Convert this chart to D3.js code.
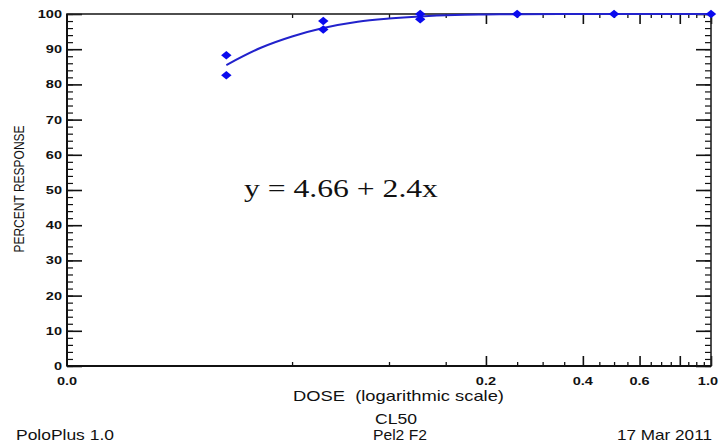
<!DOCTYPE html>
<html><head><meta charset="utf-8">
<script src="https://cdn.jsdelivr.net/npm/d3@7"></script>
<style>body{margin:0;background:#fff}svg{display:block}</style>
</head><body>
<svg id="c" width="719" height="446"></svg>
<script>
// ---- data ----
const doses = [0.03125, 0.03125, 0.0625, 0.0625, 0.125, 0.125, 0.25, 0.5, 1.0];
const responses = [88.3, 82.6, 98.0, 95.6, 100, 98.5, 100, 100, 100];
const curveDoses = [0.03125, 0.04, 0.05, 0.0625, 0.08, 0.1, 0.125, 0.16, 0.2, 0.25, 0.5, 1.0];
const curveResp = [85.5, 90.4, 93.6, 96.0, 97.8, 98.7, 99.3, 99.7, 99.85, 99.95, 100, 100];
const yMajorTicks = [0,10,20,30,40,50,60,70,80,90,100];
const yMinorTicks = d3.range(0, 101, 2);
const xLabelTicks = [0.01, 0.2, 0.4, 0.6, 1.0];
const xLabelText = ["0.0", "0.2", "0.4", "0.6", "1.0"];
const xMajorTicks = [0.2, 0.4, 0.6, 0.8, 1.0];
const xMinorTicks = [0.05,0.1,0.15,0.25,0.3,0.35,0.45,0.5,0.55,0.65,0.7,0.75,0.85,0.9,0.95];
const equation = "y = 4.66 + 2.4x";

const svg = d3.select("#c");
const L = 67, R = 711, T = 14, B = 366;
const x = d3.scaleLog().domain([0.01, 1]).range([L, R]);
const y = d3.scaleLinear().domain([0, 100]).range([B, T]);

function txt(s, px, py, opt) {
  const t = svg.append("text").text(s)
    .attr("x", 0).attr("y", 0)
    .attr("text-anchor", opt.anchor || "start")
    .attr("font-family", opt.family || "Liberation Sans, Arial, sans-serif")
    .attr("font-size", opt.size)
    .attr("font-weight", opt.weight || "normal")
    .attr("fill", "#111");
  if (opt.dy) t.attr("dy", opt.dy);
  let sx = opt.sx || 1;
  if (opt.width) sx = opt.width / t.node().getComputedTextLength();
  t.attr("transform", `translate(${px},${py}) scale(${sx},1)` + (opt.rot ? ` rotate(${opt.rot})` : ""));
  return t;
}

// ---- axes (ticks inward) ----
function axisStyle(g, w) {
  g.selectAll(".domain").remove();
  g.selectAll(".tick line").attr("stroke", "#111").attr("stroke-width", w);
  g.selectAll(".tick text").remove();
}
svg.append("g").attr("transform", `translate(${L},0)`)
  .call(d3.axisRight(y).tickValues(yMajorTicks).tickSize(15).tickFormat(""))
  .call(g => axisStyle(g, 1.6));
svg.append("g").attr("transform", `translate(${L},0)`)
  .call(d3.axisRight(y).tickValues(yMinorTicks).tickSize(6).tickFormat(""))
  .call(g => axisStyle(g, 1.2));
svg.append("g").attr("transform", `translate(${R},0)`)
  .call(d3.axisLeft(y).tickValues(yMajorTicks).tickSize(15).tickFormat(""))
  .call(g => axisStyle(g, 1.6));
svg.append("g").attr("transform", `translate(${R},0)`)
  .call(d3.axisLeft(y).tickValues(yMinorTicks).tickSize(6).tickFormat(""))
  .call(g => axisStyle(g, 1.2));
svg.append("g").attr("transform", `translate(0,${B})`)
  .call(d3.axisTop(x).tickValues(xMajorTicks).tickSize(10).tickFormat(""))
  .call(g => axisStyle(g, 1.6));
svg.append("g").attr("transform", `translate(0,${B})`)
  .call(d3.axisTop(x).tickValues(xMinorTicks).tickSize(4).tickFormat(""))
  .call(g => axisStyle(g, 1.3));
svg.append("g").attr("transform", `translate(0,${T})`)
  .call(d3.axisBottom(x).tickValues(xMajorTicks).tickSize(10).tickFormat(""))
  .call(g => axisStyle(g, 1.6));
svg.append("g").attr("transform", `translate(0,${T})`)
  .call(d3.axisBottom(x).tickValues(xMinorTicks).tickSize(4).tickFormat(""))
  .call(g => axisStyle(g, 1.3));

// frame
svg.append("rect").attr("x", L).attr("y", T).attr("width", R - L).attr("height", B - T)
  .attr("fill", "none").attr("stroke", "#222").attr("stroke-width", 1.6);
svg.append("line").attr("x1", L).attr("x2", L).attr("y1", T).attr("y2", B).attr("stroke", "#111").attr("stroke-width", 2);
svg.append("line").attr("x1", L).attr("x2", R).attr("y1", B).attr("y2", B).attr("stroke", "#111").attr("stroke-width", 2);

// tick labels
yMajorTicks.forEach(v => txt(String(v), 62, y(v), {anchor: "end", size: 11, weight: "bold", sx: 1.32, dy: "0.36em"}));
xLabelTicks.forEach((v, i) => {
  const last = i === xLabelTicks.length - 1;
  txt(xLabelText[i], last ? 718 : x(v), 385, {anchor: last ? "end" : "middle", size: 11, weight: "bold", sx: 1.32});
});

// curve
svg.append("path")
  .datum(curveDoses.map((d, i) => [d, curveResp[i]]))
  .attr("d", d3.line().x(d => x(d[0])).y(d => y(d[1])).curve(d3.curveMonotoneX))
  .attr("fill", "none").attr("stroke", "#2222cc").attr("stroke-width", 2);

// points
const dia = "M0,-4.2L5.2,0L0,4.2L-5.2,0Z";
svg.selectAll(".pt").data(doses.map((d, i) => [d, responses[i]])).enter()
  .append("path").attr("class", "pt").attr("d", dia)
  .attr("transform", d => `translate(${x(d[0])},${y(d[1])})`)
  .attr("fill", "#0a0aee");

// texts
txt(equation, 244, 197, {family: "Liberation Serif, Times New Roman, serif", size: 25, width: 194});
txt("PERCENT RESPONSE", 24, 189, {anchor: "middle", size: 12, sx: 1.25, rot: -90});
txt("DOSE  (logarithmic scale)", 293, 401, {size: 14, width: 206}).style("white-space", "pre");
txt("CL50", 375, 424, {size: 14, width: 42});
txt("PoloPlus 1.0", 16, 440, {size: 14, width: 98});
txt("Pel2 F2", 373, 440, {size: 14, width: 54});
txt("17 Mar 2011", 617, 440, {size: 14, width: 95});
</script>
</body></html>
